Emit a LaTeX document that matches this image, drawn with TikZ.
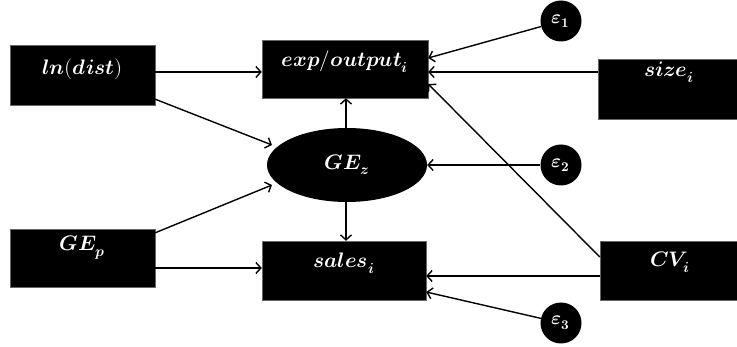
\documentclass[tikz,border=0pt]{standalone}
\usepackage{unicode-math}
\setmathfont{Latin Modern Math}
\usetikzlibrary{arrows.meta,shapes.geometric}
\newcommand{\bv}[1]{\symbfit{#1}}
\begin{document}
\begin{tikzpicture}[x=1pt,y=-1pt,
  lbl/.style={text=white,font=\fontsize{21}{25}\selectfont},
  box/.style={lbl,draw=black!60,fill=black,rectangle,inner xsep=0pt,inner ysep=4pt},
  eps/.style={lbl,circle,fill=black,inner sep=0pt,minimum size=41pt,font=\fontsize{19}{22}\selectfont},
  arr/.style={line width=1.4pt,-{Straight Barb[length=5pt,width=11pt,line width=1.4pt]}}]
\useasboundingbox (0,0) rectangle (737,347);
\node[box,minimum width=145pt,text height=26pt,text depth=26pt] (lnd) at (82.5,75) {$\bv{ln}\symbf{(}\bv{dist}\symbf{)}$};
\node[box,minimum width=166pt,text height=23pt,text depth=27pt] (exp) at (345,69) {$\bv{exp}/\bv{output}_{\bv{i}}$};
\node[box,minimum width=164pt,text height=23pt,text depth=28pt] (sales) at (344,270.5) {$\bv{sales}_{\bv{i}}$};
\node[box,minimum width=142pt,text height=14pt,text depth=38pt] (size) at (669,89) {$\bv{size}_{\bv{i}}$};
\node[box,minimum width=140pt,text height=22pt,text depth=29pt] (cv) at (670,270.5) {$\bv{CV}_{\bv{i}}$};
\node[box,minimum width=145pt,text height=18pt,text depth=32pt] (gep) at (82.5,258) {$\bv{GE}_{\bv{p}}$};
\node[lbl,ellipse,fill=black,minimum width=160pt,minimum height=74pt,inner sep=0pt] (gez) at (347,165) {$\bv{GE}_{\bv{z}}$};
\node[eps] (e1) at (561,21) {$\bv{\varepsilon}_{\symbf{1}}$};
\node[eps] (e2) at (561,165) {$\bv{\varepsilon}_{\symbf{2}}$};
\node[eps] (e3) at (561,323) {$\bv{\varepsilon}_{\symbf{3}}$};
\draw[arr] (lnd.east |- 0,72) -- (exp.west |- 0,72);
\draw[arr] (lnd.south east) ++(0,-6) -- (272,145);
\draw[arr] (gep.north east) ++(0,4) -- (272,185);
\draw[arr] (gep.east |- 0,268) -- (sales.west |- 0,268);
\draw[arr] (gez.north -| 346,0) -- (exp.south -| 346,0);
\draw[arr] (gez.south -| 346,0) -- (sales.north -| 346,0);
\draw[arr] (e1) -- (exp.east |- 0,58);
\draw[arr] (size.west |- 0,72) -- (exp.east |- 0,72);
\draw[arr] (cv.west |- 0,257) -- (exp.east |- 0,84);
\draw[arr] (e2) -- (gez.east);
\draw[arr] (cv.west |- 0,276) -- (sales.east |- 0,276);
\draw[arr] (e3) -- (sales.east |- 0,292);
\end{tikzpicture}
\end{document}
